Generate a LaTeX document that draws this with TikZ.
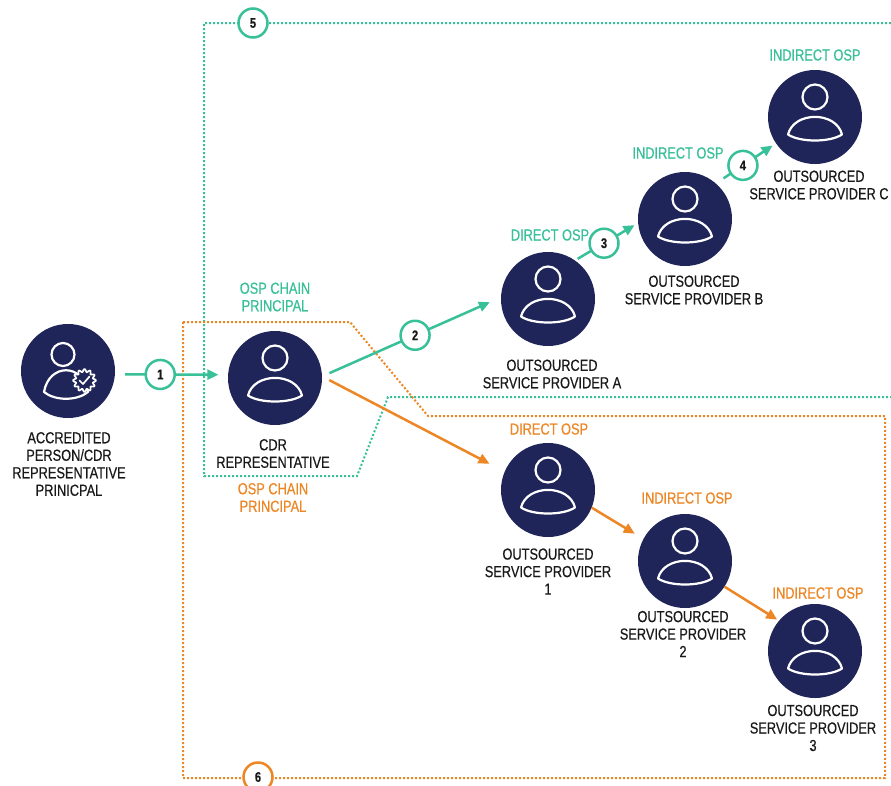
\documentclass[tikz,border=0pt]{standalone}
\usepackage{fontspec}
\setmainfont{Liberation Sans}[FakeStretch=0.8,FakeBold=0.4]
\usetikzlibrary{arrows.meta}
\definecolor{navy}{RGB}{31,37,89}
\definecolor{tealc}{RGB}{56,192,152}
\definecolor{orangec}{RGB}{237,134,36}
\definecolor{txt}{RGB}{25,25,25}
\tikzset{
  osp/.style={circle, fill=navy, minimum size=94pt, inner sep=0pt},
  lbl/.style={align=center, text=txt, font=\fontsize{16}{17.5}\selectfont, inner sep=0pt},
  tlbl/.style={lbl, text=tealc},
  olbl/.style={lbl, text=orangec},
  numc/.style={circle, draw=#1, line width=2.5pt, fill=white, minimum size=29pt, inner sep=0pt, text=txt, font=\fontsize{14}{14}\selectfont\bfseries},
  tarrow/.style={draw=tealc, line width=2.5pt, -{Triangle[length=11pt,width=10pt]}},
  oarrow/.style={draw=orangec, line width=2.5pt, -{Triangle[length=11pt,width=10pt]}},
  tdot/.style={draw=tealc, line width=2pt, dash pattern=on 2pt off 2pt},
  odot/.style={draw=orangec, line width=2pt, dash pattern=on 2pt off 2pt},
  icon/.style={draw=white, line width=2.2pt, line join=round},
}
\newcommand\personicon[1]{%
  \begin{scope}[shift={(#1)}]
    \draw[icon] (0,-20) circle[radius=12.5];
    \draw[icon] (-27,17.5) .. controls (-21,-6) and (21,-6) .. (27,17.5) .. controls (15,25.5) and (-15,25.5) .. cycle;
  \end{scope}}
\begin{document}
\begin{tikzpicture}[x=1pt,y=-1pt]
\fill[white] (0,0) rectangle (891,785);
\useasboundingbox (0,0) rectangle (891,785);

% dotted chain boxes
\draw[tdot] (891,23) -- (204,23) -- (204,476) -- (357,476) -- (388,397) -- (891,397);
\draw[odot] (183,322) -- (350,322) -- (428,416) -- (885,416) -- (885,778) -- (183,778) -- cycle;
\node[numc=tealc] (n5) at (253,23) {5};
\node[numc=orangec] (n6) at (258,777) {6};

% main nodes
\node[osp] (acc) at (68,371) {};
\node[osp] (cdr) at (275,378) {};
\node[osp] (pA) at (548,299) {};
\node[osp] (pB) at (685,219) {};
\node[osp] (pC) at (815,117) {};
\node[osp] (p1) at (548,490) {};
\node[osp] (p2) at (685,561) {};
\node[osp] (p3) at (815,651) {};

% icons
\begin{scope}[shift={(acc)}]
  \draw[icon] (-5,-16.5) circle[radius=11.5];
  \draw[icon] (-24,21) .. controls (-19,-8) and (15,-8) .. (20,21) .. controls (9,30) and (-13,30) .. cycle;
  \draw[icon, line width=1.7pt, fill=navy] plot[domain=0:360, samples=145] ({16.5+(10+1.4*cos(12*\x))*cos(\x)}, {9.5+(10+1.4*cos(12*\x))*sin(\x)}) -- cycle;
  \draw[icon, line width=1.7pt, line cap=round] (11.5,9.5) -- (15,13) -- (21.5,5.5);
\end{scope}
\personicon{cdr}
\personicon{pA}
\personicon{pB}
\personicon{pC}
\personicon{p1}
\personicon{p2}
\personicon{p3}

% connectors
\draw[tarrow, shorten <=10pt, shorten >=9.5pt] (acc.-4) -- node[numc=tealc, pos=0.4] (n1) {1} (cdr.176);
\draw[oarrow, shorten <=8pt, shorten >=17pt] (cdr.2) -- (p1.157);
\draw[tarrow, shorten <=8pt, shorten >=12pt] (cdr.2) -- node[numc=tealc, pos=0.52] (n2) {2} (pA.178);
\draw[tarrow, shorten <=3pt, shorten >=4pt] (pA.55) -- node[numc=tealc, pos=0.46] (n3) {3} (pB.185);
\draw[tarrow, shorten <=9pt, shorten >=4pt] (pB.49) -- node[numc=tealc, pos=0.45] (n4) {4} (pC.214);
\draw[oarrow, shorten >=10pt] (p1.338) -- (p2.152);
\draw[oarrow, shorten >=2pt] (p2.327) -- (p3.140);

% labels
\node[lbl] (lacc) at (69,464) {ACCREDITED\\PERSON/CDR\\REPRESENTATIVE\\PRINICPAL};
\node[lbl] (lcdr) at (273,453.5) {CDR\\REPRESENTATIVE};
\node[lbl] (lA) at (552,374) {OUTSOURCED\\SERVICE PROVIDER A};
\node[lbl] (lB) at (694,290) {OUTSOURCED\\SERVICE PROVIDER B};
\node[lbl] (lC) at (819,185) {OUTSOURCED\\SERVICE PROVIDER C};
\node[lbl] (l1) at (548,571.5) {OUTSOURCED\\SERVICE PROVIDER\\1};
\node[lbl] (l2) at (683,634) {OUTSOURCED\\SERVICE PROVIDER\\2};
\node[lbl] (l3) at (813,728) {OUTSOURCED\\SERVICE PROVIDER\\3};

\node[tlbl] (tch) at (275,297) {OSP CHAIN\\PRINCIPAL};
\node[olbl] (och) at (273,497.5) {OSP CHAIN\\PRINCIPAL};
\node[tlbl] (tdA) at (550,235) {DIRECT OSP};
\node[tlbl] (tiB) at (678,153) {INDIRECT OSP};
\node[tlbl] (tiC) at (815,55) {INDIRECT OSP};
\node[olbl] (od1) at (549,429) {DIRECT OSP};
\node[olbl] (oi2) at (687,498) {INDIRECT OSP};
\node[olbl] (oi3) at (818,593) {INDIRECT OSP};
\end{tikzpicture}
\end{document}
